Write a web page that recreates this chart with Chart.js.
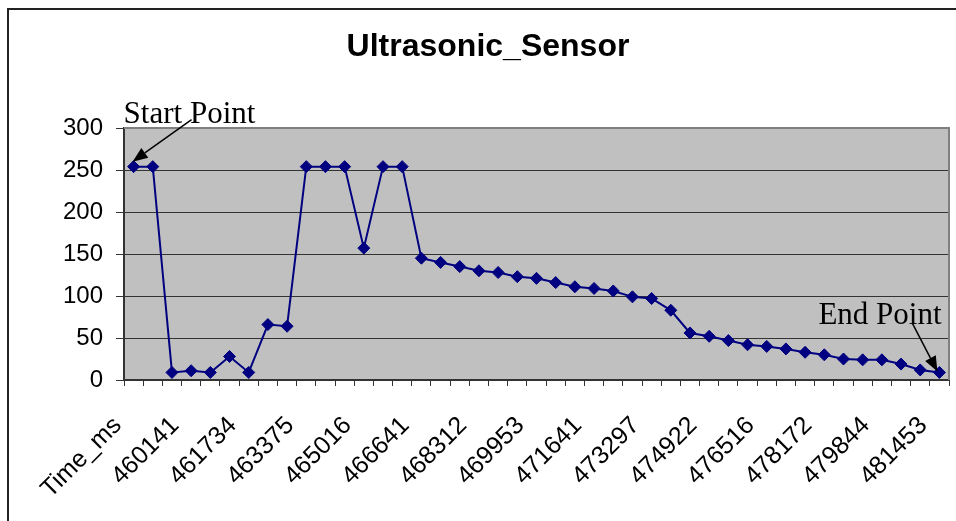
<!DOCTYPE html>
<html>
<head>
<meta charset="utf-8">
<script src="https://cdn.jsdelivr.net/npm/chart.js@4/dist/chart.umd.min.js"></script>
<style>
  body { margin: 0; background: #fff; }
  #wrap { width: 956px; height: 521px; }
</style>
</head>
<body>
<div id="wrap"><canvas id="js--chart--1" width="956" height="521"></canvas></div>
<script>
// every third category carries a label in the original sheet
const tickLabels = [
    "Time_ms", "460141", "461734", "463375", "465016",
    "466641", "468312", "469953", "471641", "473297",
    "474922", "476516", "478172", "479844", "481453"
];

const sensorValues = [
    254, 254, 9, 11, 9, 28, 9, 66, 64, 254,
    254, 254, 157, 254, 254, 145, 140, 135, 130, 128,
    123, 121, 116, 111, 109, 106, 99, 97, 83, 56,
    52, 47, 42, 40, 37, 33, 30, 25, 24, 24,
    19, 12, 9
];

const yTicks = [0, 50, 100, 150, 200, 250, 300];

const labels = sensorValues.map((v, i) => (i % 3 === 0 ? tickLabels[i / 3] : ""));

const sansFont = "'Liberation Sans', Arial, sans-serif";
const serifFont = "'Liberation Serif', 'Times New Roman', serif";

// grey plot area, outer frame
const background = {
    id: "background",
    beforeDraw(chart) {
        const ctx = chart.ctx;
        const a = chart.chartArea;
        ctx.save();
        ctx.fillStyle = "#fff";
        ctx.fillRect(0, 0, chart.width, chart.height);
        ctx.strokeStyle = "#222";
        ctx.lineWidth = 2;
        ctx.strokeRect(8, 9, chart.width + 20, chart.height + 20);
        ctx.fillStyle = "#c0c0c0";
        ctx.fillRect(a.left, a.top, a.right - a.left, a.bottom - a.top);
        ctx.restore();
    },
    beforeDatasetsDraw(chart) {
        const ctx = chart.ctx;
        const a = chart.chartArea;
        ctx.save();
        ctx.strokeStyle = "#808080";
        ctx.lineWidth = 2;
        ctx.beginPath();
        ctx.moveTo(a.left, a.top);
        ctx.lineTo(a.right, a.top);
        ctx.lineTo(a.right, a.bottom);
        ctx.stroke();
        ctx.restore();
    }
};

function arrow(ctx, x1, y1, x2, y2) {
    const ang = Math.atan2(y2 - y1, x2 - x1);
    const len = 15, half = 6;
    const bx = x2 - Math.cos(ang) * len, by = y2 - Math.sin(ang) * len;
    ctx.beginPath();
    ctx.moveTo(x1, y1);
    ctx.lineTo(bx, by);
    ctx.stroke();
    ctx.beginPath();
    ctx.moveTo(x2, y2);
    ctx.lineTo(bx + Math.sin(ang) * half, by - Math.cos(ang) * half);
    ctx.lineTo(bx - Math.sin(ang) * half, by + Math.cos(ang) * half);
    ctx.closePath();
    ctx.fill();
}

// "Start Point" / "End Point" callouts, placed from the first and last points
const callouts = {
    id: "callouts",
    afterDatasetsDraw(chart) {
        const ctx = chart.ctx;
        const pts = chart.getDatasetMeta(0).data;
        const first = pts[0], last = pts[pts.length - 1];
        ctx.save();
        ctx.fillStyle = "#000";
        ctx.strokeStyle = "#000";
        ctx.lineWidth = 1.5;
        ctx.font = "31px " + serifFont;
        ctx.textBaseline = "alphabetic";
        ctx.textAlign = "left";
        ctx.fillText("Start Point", first.x - 10, first.y - 44);
        arrow(ctx, first.x + 58, first.y - 47, first.x - 1, first.y - 5);
        ctx.fillText("End Point", last.x - 121, last.y - 48);
        arrow(ctx, last.x - 27, last.y - 49, last.x - 2, last.y - 1);
        ctx.restore();
    }
};

const data = {
    labels: labels,
    datasets: [{
        label: "Ultrasonic_Sensor",
        data: sensorValues,
        borderColor: "#000080",
        borderWidth: 2,
        backgroundColor: "#000080",
        pointStyle: "rectRot",
        pointRadius: 6,
        pointBackgroundColor: "#000080",
        pointBorderColor: "#000080",
        pointBorderWidth: 1,
        tension: 0
    }]
};

const config = {
    type: "line",
    data: data,
    plugins: [background, callouts],
    options: {
        responsive: false,
        animation: false,
        devicePixelRatio: 1,
        layout: { padding: { left: 26, right: 6, top: 0, bottom: 0 } },
        plugins: {
            legend: { display: false },
            tooltip: { enabled: false },
            title: {
                display: true,
                text: "Ultrasonic_Sensor",
                color: "#000",
                font: { family: sansFont, size: 32, weight: "bold" },
                padding: { top: 28, bottom: 61.6 }
            }
        },
        scales: {
            x: {
                offset: true,
                grid: {
                    offset: true,
                    drawOnChartArea: false,
                    drawTicks: true,
                    tickLength: 6,
                    color: "#333",
                    lineWidth: 1
                },
                border: { color: "#333", width: 2 },
                ticks: {
                    autoSkip: false,
                    minRotation: 45,
                    maxRotation: 45,
                    padding: 25,
                    labelOffset: -16,
                    color: "#000",
                    font: { family: sansFont, size: 25 }
                },
                afterFit: s => {
                    s.height = 141;
                    s.paddingLeft = 0;
                    s.paddingRight = 0;
                }
            },
            y: {
                min: 0,
                max: 300,
                afterBuildTicks: s => { s.ticks = yTicks.map(v => ({ value: v })); },
                grid: { color: "#333", lineWidth: 1, tickLength: 8, tickColor: "#333" },
                border: { color: "#333", width: 2 },
                ticks: {
                    padding: 13,
                    color: "#000",
                    font: { family: sansFont, size: 24 }
                },
                afterFit: s => { s.width = 98; }
            }
        }
    }
};

new Chart(document.getElementById("js--chart--1"), config);
</script>
</body>
</html>
